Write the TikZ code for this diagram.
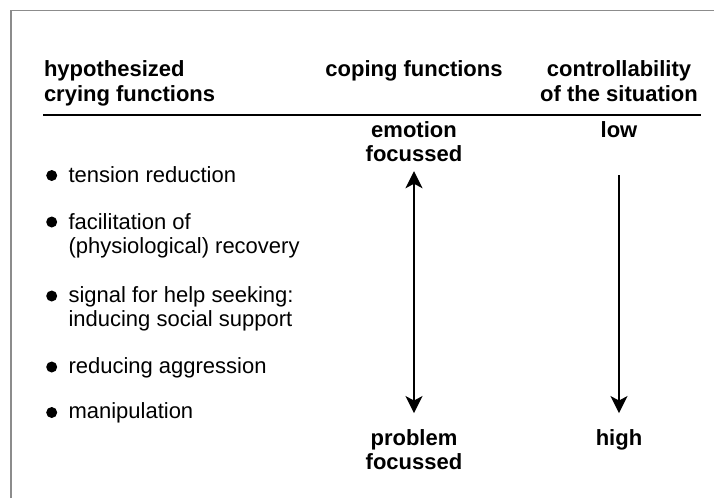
\documentclass[tikz,border=0pt]{standalone}
\usepackage{fontspec}
\setmainfont{Liberation Sans}
\usetikzlibrary{arrows.meta}

\begin{document}
\begin{tikzpicture}[x=1pt,y=-1pt,
    every node/.style={inner sep=0pt,outer sep=0pt,font=\fontsize{22}{24}\selectfont},
    head/.style={font=\fontsize{22}{24.5}\selectfont\bfseries,align=center,anchor=base},
    pole/.style={font=\fontsize{22}{24}\selectfont\bfseries,align=center,anchor=base},
    entry/.style={anchor=base west,align=left},
    dot/.style={circle,fill,minimum size=11pt},
    axis/.style={line width=2.3pt,{Stealth[length=17pt,width=17pt,inset=4.5pt]}-{Stealth[length=17pt,width=17pt,inset=4.5pt]}}]
  \useasboundingbox (0,0) rectangle (714,498);
  \draw[black!45,line width=1.6pt] (11,498) -- (11,10.5) -- (714,10.5);

  \node[head,anchor=base west,align=left] (crying-h) at (44,101) {hypothesized\\crying functions};
  \node[head] (coping-h)  at (414,76) {coping functions};
  \node[head] (control-h) at (619,101) {controllability\\of the situation};
  \draw[line width=1.4pt] (43,115) -- (701,115);

  \node[dot] (dot-1) at (51.7,175.5) {};
  \node[dot] (dot-2) at (51.7,222) {};
  \node[dot] (dot-3) at (51.7,296) {};
  \node[dot] (dot-4) at (51.7,367) {};
  \node[dot] (dot-5) at (51.7,412.5) {};
  \node[entry] (tension)  at (68.5,182.5) {tension reduction};
  \node[entry] (recovery) at (68.5,253)   {facilitation of\\(physiological) recovery};
  \node[entry] (signal)   at (68.5,326)   {signal for help seeking:\\inducing social support};
  \node[entry] (aggress)  at (68.5,373)   {reducing aggression};
  \node[entry] (manip)    at (68.5,418.5) {manipulation};

  \node[pole] (emotion) at (414,161) {emotion\\focussed};
  \node[pole] (problem) at (414,469) {problem\\focussed};
  \node[pole] (low)     at (619,137) {low};
  \node[pole] (high)    at (619,445) {high};

  \draw[axis,shorten <=10pt,shorten >=16pt] (emotion) -- (problem);
  \draw[axis,-{Stealth[length=17pt,width=17pt,inset=4.5pt]},shorten <=38pt,shorten >=16pt] (low) -- (high);
\end{tikzpicture}
\end{document}
